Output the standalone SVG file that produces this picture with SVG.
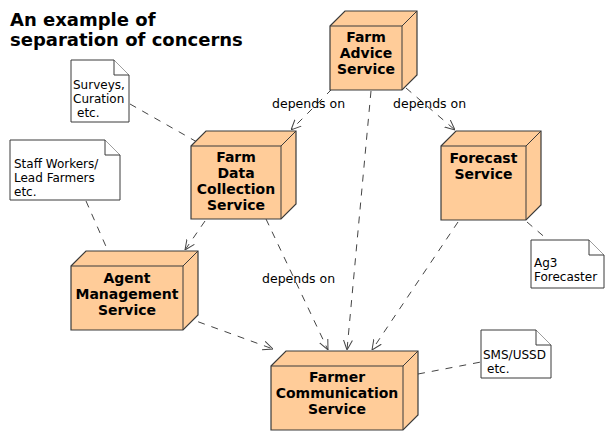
<svg xmlns="http://www.w3.org/2000/svg" width="614" height="440" viewBox="0 0 614 440">
<defs>
<style>
.node{fill:#FFCC99;stroke:#3A3A3A;stroke-width:1.2}
.edge{fill:none;stroke:#3A3A3A;stroke-width:1}
.note{fill:#FFFFFF;stroke:#3A3A3A;stroke-width:1}
.conn{fill:none;stroke:#444444;stroke-width:1;stroke-dasharray:7,7}
.nt{font-family:"DejaVu Sans",sans-serif;font-size:14px;font-weight:bold;fill:#000;text-anchor:middle}
.tt{font-family:"DejaVu Sans",sans-serif;font-size:12.5px;fill:#000}
.ns{font-family:"DejaVu Sans",sans-serif;font-size:12px;fill:#000}
.title{font-family:"DejaVu Sans",sans-serif;font-size:18px;font-weight:bold;fill:#000}
</style>
<marker id="arr" viewBox="0 0 10 10" refX="10" refY="5" markerWidth="10" markerHeight="10" markerUnits="userSpaceOnUse" orient="auto">
<path d="M0,0.5 L10,5 L0,9.5" fill="none" stroke="#444444" stroke-width="1"/>
</marker>
</defs>
<rect width="614" height="440" fill="#FFFFFF"/>
<g id="title">
<text class="title" x="10" y="26">An example of</text>
<text class="title" x="10" y="46">separation of concerns</text>
</g>
<g id="connectors">
<line class="conn" x1="332" y1="89" x2="291" y2="130" marker-end="url(#arr)"/>
<line class="conn" x1="406" y1="88" x2="455" y2="130" marker-end="url(#arr)"/>
<line class="conn" x1="371" y1="91" x2="347" y2="350" marker-end="url(#arr)"/>
<line class="conn" x1="205" y1="221" x2="185" y2="250" marker-end="url(#arr)"/>
<line class="conn" x1="266" y1="219" x2="328" y2="350" marker-end="url(#arr)"/>
<line class="conn" x1="458" y1="222" x2="372" y2="350" marker-end="url(#arr)"/>
<line class="conn" x1="185" y1="317" x2="273" y2="349" marker-end="url(#arr)"/>
<line class="conn" x1="130" y1="104" x2="197" y2="142"/>
<line class="conn" x1="86" y1="201" x2="108" y2="251"/>
<line class="conn" x1="527" y1="222" x2="548" y2="240"/>
<line class="conn" x1="418" y1="374" x2="481" y2="362"/>
<text class="tt" x="272" y="108">depends on</text>
<text class="tt" x="393" y="108">depends on</text>
<text class="tt" x="262" y="283">depends on</text>
</g>
<g id="farm-advice">
<path class="node" d="M330,26 L345,11 L417,11 L417,75 L402,90 L330,90 Z"/>
<path class="edge" d="M330,26 L402,26 L417,11 M402,26 L402,90"/>
<text class="nt" x="366" y="42">Farm</text>
<text class="nt" x="366" y="58">Advice</text>
<text class="nt" x="366" y="74">Service</text>
</g>
<g id="farm-data">
<path class="node" d="M191,146 L206,131 L296,131 L296,204 L281,219 L191,219 Z"/>
<path class="edge" d="M191,146 L281,146 L296,131 M281,146 L281,219"/>
<text class="nt" x="236" y="162">Farm</text>
<text class="nt" x="236" y="178">Data</text>
<text class="nt" x="236" y="194">Collection</text>
<text class="nt" x="236" y="210">Service</text>
</g>
<g id="forecast">
<path class="node" d="M441,146 L456,131 L541,131 L541,205 L526,220 L441,220 Z"/>
<path class="edge" d="M441,146 L526,146 L541,131 M526,146 L526,220"/>
<text class="nt" x="483.5" y="163">Forecast</text>
<text class="nt" x="483.5" y="179">Service</text>
</g>
<g id="agent">
<path class="node" d="M71,266 L86,251 L198,251 L198,315 L183,330 L71,330 Z"/>
<path class="edge" d="M71,266 L183,266 L198,251 M183,266 L183,330"/>
<text class="nt" x="127" y="283">Agent</text>
<text class="nt" x="127" y="299">Management</text>
<text class="nt" x="127" y="315">Service</text>
</g>
<g id="farmer-comm">
<path class="node" d="M271,366 L286,351 L418,351 L418,415 L403,430 L271,430 Z"/>
<path class="edge" d="M271,366 L403,366 L418,351 M403,366 L403,430"/>
<text class="nt" x="337" y="382">Farmer</text>
<text class="nt" x="337" y="398">Communication</text>
<text class="nt" x="337" y="414">Service</text>
</g>
<g id="note-surveys">
<path class="note" d="M71,60 L114,60 L129,75 L129,122 L71,122 Z"/>
<path class="note" d="M114,60 L114,75 L129,75"/>
<text class="ns" x="73" y="89">Surveys,</text>
<text class="ns" x="73" y="103">Curation</text>
<text class="ns" x="77" y="117">etc.</text>
</g>
<g id="note-staff">
<path class="note" d="M10,140 L105,140 L120,155 L120,200 L10,200 Z"/>
<path class="note" d="M105,140 L105,155 L120,155"/>
<text class="ns" x="14" y="168">Staff Workers/</text>
<text class="ns" x="14" y="182">Lead Farmers</text>
<text class="ns" x="14" y="196">etc.</text>
</g>
<g id="note-ag3">
<path class="note" d="M531,240 L589,240 L604,255 L604,288 L531,288 Z"/>
<path class="note" d="M589,240 L589,255 L604,255"/>
<text class="ns" x="534" y="267">Ag3</text>
<text class="ns" x="534" y="281">Forecaster</text>
</g>
<g id="note-sms">
<path class="note" d="M481,330 L536,330 L551,345 L551,378 L481,378 Z"/>
<path class="note" d="M536,330 L536,345 L551,345"/>
<text class="ns" x="483" y="359">SMS/USSD</text>
<text class="ns" x="487" y="373">etc.</text>
</g>
</svg>
